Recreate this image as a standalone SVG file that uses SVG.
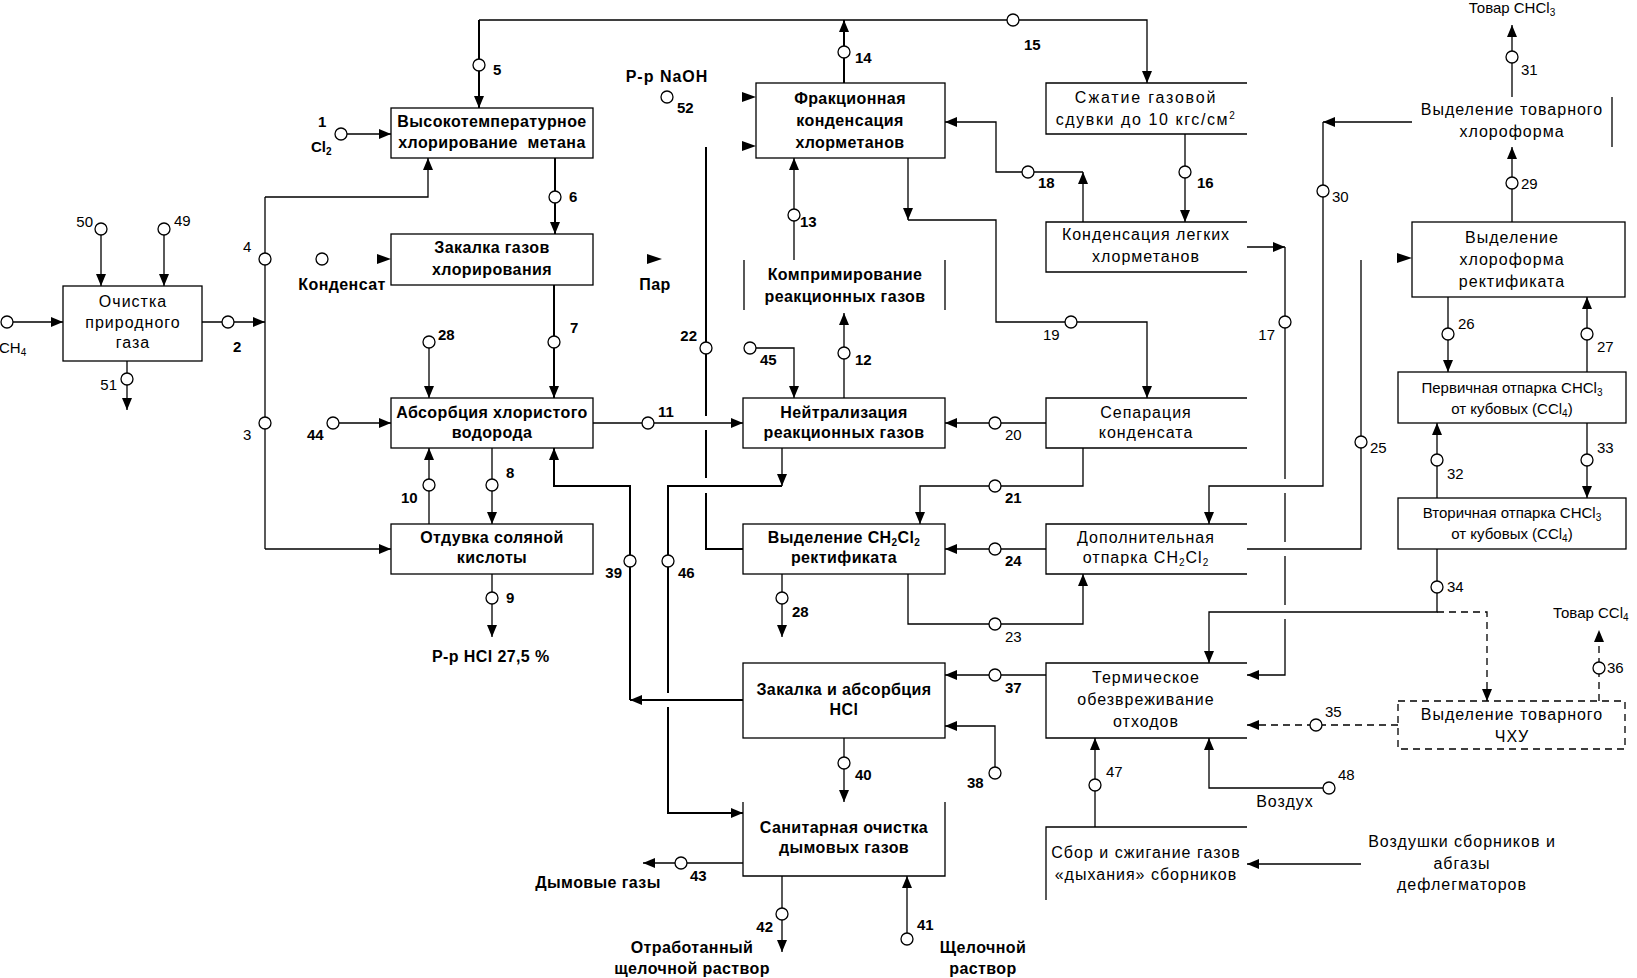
<svg xmlns="http://www.w3.org/2000/svg" width="1637" height="978" viewBox="0 0 1637 978">
<defs>
<marker id="ar" markerWidth="12" markerHeight="10" refX="12" refY="5" orient="auto" markerUnits="userSpaceOnUse"><path d="M0,0 L12,5 L0,10 z" fill="#000"/></marker>
</defs>
<style>
.ln{fill:none;stroke:#000;stroke-width:1.3}
.th{stroke-width:2}
.ds{stroke-dasharray:7 5}
.bx{fill:none;stroke:#000;stroke-width:1.3}
.c{fill:#fff;stroke:#000;stroke-width:1.3}
text{font-family:"Liberation Sans",Arial,sans-serif;font-size:15px;fill:#000}
.b{font-weight:bold}
.w{font-weight:bold;font-size:16px;letter-spacing:.4px}
.r{font-size:16px;letter-spacing:1px}
.m{text-anchor:middle}
.e{text-anchor:end}
.ah{fill:#000}
</style>
<rect width="1637" height="978" fill="#fff"/>

<g id="connectors">
<path class="ln" d="M13,322 H63" marker-end="url(#ar)"/>
<path class="ln" d="M101,235 V286" marker-end="url(#ar)"/>
<path class="ln" d="M164,235 V286" marker-end="url(#ar)"/>
<path class="ln" d="M202,322 H265" marker-end="url(#ar)"/>
<path class="ln" d="M127,361 V410" marker-end="url(#ar)"/>
<path class="ln" d="M265,197 V549"/>
<path class="ln" d="M265,197 H428 V158" marker-end="url(#ar)"/>
<path class="ln" d="M265,549 H391" marker-end="url(#ar)"/>
<path class="ln" d="M347,134 H391" marker-end="url(#ar)"/>
<polygon class="ah" points="377,254 391,259 377,264"/>
<path class="ln th" d="M844,83 V20" marker-end="url(#ar)"/>
<path class="ln th" d="M479,20 V108" marker-end="url(#ar)"/>
<path class="ln" d="M479,20 H1147 V83" marker-end="url(#ar)"/>
<path class="ln th" d="M555,158 V234" marker-end="url(#ar)"/>
<path class="ln th" d="M554,285 V398" marker-end="url(#ar)"/>
<path class="ln" d="M429,348 V398" marker-end="url(#ar)"/>
<path class="ln" d="M339,423 H391" marker-end="url(#ar)"/>
<path class="ln" d="M593,423 H743" marker-end="url(#ar)"/>
<path class="ln" d="M429,524 V448" marker-end="url(#ar)"/>
<path class="ln" d="M492,448 V524" marker-end="url(#ar)"/>
<path class="ln" d="M492,574 V637" marker-end="url(#ar)"/>
<path class="ln th" d="M706,147 V416 M706,430 V478 M706,493 V549 H743"/>
<polygon class="ah" points="647,254 662,259 647,264"/>
<polygon class="ah" points="742,92 756,97 742,102"/>
<polygon class="ah" points="742,141 756,146 742,151"/>
<path class="ln" d="M794,260 V158" marker-end="url(#ar)"/>
<path class="ln" d="M844,398 V313" marker-end="url(#ar)"/>
<path class="ln" d="M756,348 H794 V398" marker-end="url(#ar)"/>
<path class="ln" d="M1046,423 H945" marker-end="url(#ar)"/>
<path class="ln" d="M782,448 V486" marker-end="url(#ar)"/>
<path class="ln th" d="M782,486 H668 V693 M668,707 V813 H743" marker-end="url(#ar)"/>
<path class="ln th" d="M743,700 H630" marker-end="url(#ar)"/>
<path class="ln th" d="M630,700 V486 H554 V448" marker-end="url(#ar)"/>
<path class="ln" d="M1083,448 V486 H920 V524" marker-end="url(#ar)"/>
<path class="ln" d="M1046,549 H945" marker-end="url(#ar)"/>
<path class="ln" d="M908,574 V624 H1083 V574" marker-end="url(#ar)"/>
<path class="ln" d="M782,574 V637" marker-end="url(#ar)"/>
<path class="ln" d="M908,158 V220" marker-end="url(#ar)"/>
<path class="ln" d="M908,220 H996 V322 H1147 V398" marker-end="url(#ar)"/>
<path class="ln" d="M1185,134 V222" marker-end="url(#ar)"/>
<path class="ln" d="M1083,222 V172" marker-end="url(#ar)"/>
<path class="ln" d="M1083,172 H996 V122 H945" marker-end="url(#ar)"/>
<path class="ln" d="M1247,247 H1285" marker-end="url(#ar)"/>
<path class="ln" d="M1285,247 V479 M1285,493 V542 M1285,556 V605 M1285,619 V675 H1247" marker-end="url(#ar)"/>
<path class="ln" d="M1412,122 H1323" marker-end="url(#ar)"/>
<path class="ln" d="M1323,122 V486 H1209 V524" marker-end="url(#ar)"/>
<path class="ln" d="M1361,260 V549 H1247"/>
<path class="ln" d="M1512,222 V147" marker-end="url(#ar)"/>
<path class="ln" d="M1512,97 V25" marker-end="url(#ar)"/>
<polygon class="ah" points="1397,253 1412,258 1397,263"/>
<path class="ln" d="M1448,297 V372" marker-end="url(#ar)"/>
<path class="ln" d="M1587,372 V297" marker-end="url(#ar)"/>
<path class="ln" d="M1437,498 V423" marker-end="url(#ar)"/>
<path class="ln" d="M1587,423 V498" marker-end="url(#ar)"/>
<path class="ln" d="M1437,549 V612 H1209 V663" marker-end="url(#ar)"/>
<path class="ln ds" d="M1437,612 H1487 V701" marker-end="url(#ar)"/>
<path class="ln ds" d="M1398,725 H1247" marker-end="url(#ar)"/>
<path class="ln ds" d="M1599,701 V630" marker-end="url(#ar)"/>
<path class="ln" d="M1046,675 H945" marker-end="url(#ar)"/>
<path class="ln" d="M995,767 V726 H945" marker-end="url(#ar)"/>
<path class="ln" d="M844,738 V802" marker-end="url(#ar)"/>
<path class="ln" d="M907,933 V876" marker-end="url(#ar)"/>
<path class="ln" d="M782,876 V952" marker-end="url(#ar)"/>
<path class="ln" d="M743,863 H643" marker-end="url(#ar)"/>
<path class="ln" d="M1095,827 V738" marker-end="url(#ar)"/>
<path class="ln" d="M1323,788 H1209 V738" marker-end="url(#ar)"/>
<path class="ln" d="M1361,864 H1247" marker-end="url(#ar)"/>

<circle class="c" cx="7" cy="322" r="6"/>
<circle class="c" cx="101" cy="229" r="6"/>
<circle class="c" cx="164" cy="229" r="6"/>
<circle class="c" cx="228" cy="322" r="6"/>
<circle class="c" cx="127" cy="379" r="6"/>
<circle class="c" cx="265" cy="259" r="6"/>
<circle class="c" cx="265" cy="423" r="6"/>
<circle class="c" cx="341" cy="134" r="6"/>
<circle class="c" cx="322" cy="259" r="6"/>
<circle class="c" cx="479" cy="65" r="6"/>
<circle class="c" cx="1013" cy="20" r="6"/>
<circle class="c" cx="844" cy="52" r="6"/>
<circle class="c" cx="555" cy="197" r="6"/>
<circle class="c" cx="554" cy="342" r="6"/>
<circle class="c" cx="429" cy="342" r="6"/>
<circle class="c" cx="333" cy="423" r="6"/>
<circle class="c" cx="648" cy="423" r="6"/>
<circle class="c" cx="429" cy="485" r="6"/>
<circle class="c" cx="492" cy="485" r="6"/>
<circle class="c" cx="492" cy="598" r="6"/>
<circle class="c" cx="706" cy="348" r="6"/>
<circle class="c" cx="667" cy="97" r="6"/>
<circle class="c" cx="794" cy="215" r="6"/>
<circle class="c" cx="844" cy="353" r="6"/>
<circle class="c" cx="750" cy="348" r="6"/>
<circle class="c" cx="995" cy="423" r="6"/>
<circle class="c" cx="668" cy="561" r="6"/>
<circle class="c" cx="630" cy="561" r="6"/>
<circle class="c" cx="995" cy="486" r="6"/>
<circle class="c" cx="995" cy="549" r="6"/>
<circle class="c" cx="995" cy="624" r="6"/>
<circle class="c" cx="782" cy="598" r="6"/>
<circle class="c" cx="1071" cy="322" r="6"/>
<circle class="c" cx="1185" cy="172" r="6"/>
<circle class="c" cx="1028" cy="172" r="6"/>
<circle class="c" cx="1285" cy="322" r="6"/>
<circle class="c" cx="1323" cy="191" r="6"/>
<circle class="c" cx="1361" cy="442" r="6"/>
<circle class="c" cx="1512" cy="183" r="6"/>
<circle class="c" cx="1512" cy="57" r="6"/>
<circle class="c" cx="1448" cy="334" r="6"/>
<circle class="c" cx="1587" cy="334" r="6"/>
<circle class="c" cx="1437" cy="460" r="6"/>
<circle class="c" cx="1587" cy="460" r="6"/>
<circle class="c" cx="1437" cy="587" r="6"/>
<circle class="c" cx="1316" cy="725" r="6"/>
<circle class="c" cx="1599" cy="668" r="6"/>
<circle class="c" cx="995" cy="675" r="6"/>
<circle class="c" cx="995" cy="773" r="6"/>
<circle class="c" cx="844" cy="763" r="6"/>
<circle class="c" cx="907" cy="939" r="6"/>
<circle class="c" cx="782" cy="914" r="6"/>
<circle class="c" cx="681" cy="863" r="6"/>
<circle class="c" cx="1095" cy="785" r="6"/>
<circle class="c" cx="1329" cy="788" r="6"/>

<text x="-1" y="353">CH<tspan font-size="10" dy="3">4</tspan></text>
<text x="93" y="227" class="e">50</text>
<text x="174" y="226">49</text>
<text x="233" y="352" class="b">2</text>
<text x="117" y="390" class="e">51</text>
<text x="243" y="252">4</text>
<text x="243" y="440">3</text>
<text x="318" y="127" class="b">1</text>
<text x="311" y="152" class="b">Cl<tspan font-size="10" dy="3">2</tspan></text>
<text x="342" y="290" class="w m">Конденсат</text>
<text x="493" y="75" class="b">5</text>
<text x="1024" y="50" class="b">15</text>
<text x="855" y="63" class="b">14</text>
<text x="569" y="202" class="b">6</text>
<text x="570" y="333" class="b">7</text>
<text x="438" y="340" class="b">28</text>
<text x="307" y="440" class="b">44</text>
<text x="658" y="417" class="b">11</text>
<text x="401" y="503" class="b">10</text>
<text x="506" y="478" class="b">8</text>
<text x="506" y="603" class="b">9</text>
<text x="432" y="662" class="w">Р-р HCl 27,5 %</text>
<text x="697" y="341" class="b e">22</text>
<text x="667" y="82" class="w m" style="letter-spacing:1px">Р-р NaOH</text>
<text x="677" y="113" class="b">52</text>
<text x="655" y="290" class="w m">Пар</text>
<text x="800" y="227" class="b">13</text>
<text x="855" y="365" class="b">12</text>
<text x="760" y="365" class="b">45</text>
<text x="1005" y="440">20</text>
<text x="678" y="578" class="b">46</text>
<text x="622" y="578" class="b e">39</text>
<text x="1005" y="503" class="b">21</text>
<text x="1005" y="566" class="b">24</text>
<text x="1005" y="642">23</text>
<text x="792" y="617" class="b">28</text>
<text x="1043" y="340">19</text>
<text x="1197" y="188" class="b">16</text>
<text x="1038" y="188" class="b">18</text>
<text x="1275" y="340" class="e">17</text>
<text x="1332" y="202">30</text>
<text x="1370" y="453">25</text>
<text x="1521" y="189">29</text>
<text x="1521" y="75">31</text>
<text x="1512" y="13" class="m">Товар CHCl<tspan font-size="10" dy="3">3</tspan></text>
<text x="1458" y="329">26</text>
<text x="1597" y="352">27</text>
<text x="1447" y="479">32</text>
<text x="1597" y="453">33</text>
<text x="1447" y="592">34</text>
<text x="1325" y="717">35</text>
<text x="1607" y="673">36</text>
<text x="1553" y="618">Товар CCl<tspan font-size="10" dy="3">4</tspan></text>
<text x="1005" y="693" class="b">37</text>
<text x="967" y="788" class="b">38</text>
<text x="855" y="780" class="b">40</text>
<text x="917" y="930" class="b">41</text>
<text x="983" y="953" class="w m">Щелочной</text>
<text x="983" y="974" class="w m">раствор</text>
<text x="773" y="932" class="b e">42</text>
<text x="692" y="953" class="w m">Отработанный</text>
<text x="692" y="974" class="w m">щелочной раствор</text>
<text x="690" y="881" class="b">43</text>
<text x="598" y="888" class="w m">Дымовые газы</text>
<text x="1106" y="777">47</text>
<text x="1338" y="780">48</text>
<text x="1285" y="807" class="r m">Воздух</text>
<text x="1462" y="847" class="r m">Воздушки сборников и</text>
<text x="1462" y="869" class="r m">абгазы</text>
<text x="1462" y="890" class="r m">дефлегматоров</text>
</g>

<g id="n-ochistka">
<rect class="bx" x="63" y="286" width="139" height="75"/>
<text x="133" y="307" class="r m">Очистка</text>
<text x="133" y="328" class="r m">природного</text>
<text x="133" y="348" class="r m">газа</text>
</g>
<g id="n-hlorirovanie">
<rect class="bx" x="391" y="108" width="202" height="50"/>
<text x="492" y="127" class="w m">Высокотемпературное</text>
<text x="492" y="148" class="w m" xml:space="preserve">хлорирование  метана</text>
</g>
<g id="n-zakalka">
<rect class="bx" x="391" y="234" width="202" height="51"/>
<text x="492" y="253" class="w m">Закалка газов</text>
<text x="492" y="275" class="w m">хлорирования</text>
</g>
<g id="n-absorbcia">
<rect class="bx" x="391" y="398" width="202" height="50"/>
<text x="492" y="418" class="w m">Абсорбция хлористого</text>
<text x="492" y="438" class="w m">водорода</text>
</g>
<g id="n-otduvka">
<rect class="bx" x="391" y="524" width="202" height="50"/>
<text x="492" y="543" class="w m">Отдувка соляной</text>
<text x="492" y="563" class="w m">кислоты</text>
</g>
<g id="n-frakc">
<rect class="bx" x="756" y="83" width="189" height="75"/>
<text x="850" y="104" class="w m">Фракционная</text>
<text x="850" y="126" class="w m">конденсация</text>
<text x="850" y="148" class="w m">хлорметанов</text>
</g>
<g id="n-kompr">
<path class="bx" d="M744,260 V310 M945,260 V310"/>
<text x="845" y="280" class="w m">Компримирование</text>
<text x="845" y="302" class="w m">реакционных газов</text>
</g>
<g id="n-neitr">
<rect class="bx" x="743" y="398" width="202" height="50"/>
<text x="844" y="418" class="w m">Нейтрализация</text>
<text x="844" y="438" class="w m">реакционных газов</text>
</g>
<g id="n-ch2cl2">
<rect class="bx" x="743" y="524" width="202" height="50"/>
<text x="844" y="543" class="w m">Выделение CH<tspan font-size="10" dy="3">2</tspan><tspan dy="-3">Cl</tspan><tspan font-size="10" dy="3">2</tspan></text>
<text x="844" y="563" class="w m">ректификата</text>
</g>
<g id="n-zakalka-hcl">
<rect class="bx" x="743" y="663" width="202" height="75"/>
<text x="844" y="695" class="w m">Закалка и абсорбция</text>
<text x="844" y="715" class="w m">HCl</text>
</g>
<g id="n-sanit">
<path class="bx" d="M743,802 V876 H945 V802"/>
<text x="844" y="833" class="w m">Санитарная очистка</text>
<text x="844" y="853" class="w m">дымовых газов</text>
</g>
<g id="n-szhatie">
<path class="bx" d="M1247,83 H1046 V134 H1247"/>
<text x="1146" y="103" class="r m" style="letter-spacing:1.8px">Сжатие газовой</text>
<text x="1146" y="125" class="r m" style="letter-spacing:1.6px">сдувки до 10 кгс/см<tspan font-size="10" dy="-6">2</tspan></text>
</g>
<g id="n-kond-legk">
<path class="bx" d="M1247,222 H1046 V272 H1247"/>
<text x="1146" y="240" class="r m">Конденсация легких</text>
<text x="1146" y="262" class="r m">хлорметанов</text>
</g>
<g id="n-separ">
<path class="bx" d="M1247,398 H1046 V448 H1247"/>
<text x="1146" y="418" class="r m">Сепарация</text>
<text x="1146" y="438" class="r m">конденсата</text>
</g>
<g id="n-dopoln">
<path class="bx" d="M1247,524 H1046 V574 H1247"/>
<text x="1146" y="543" class="r m">Дополнительная</text>
<text x="1146" y="563" class="r m">отпарка CH<tspan font-size="10" dy="3">2</tspan><tspan dy="-3">Cl</tspan><tspan font-size="10" dy="3">2</tspan></text>
</g>
<g id="n-termich">
<path class="bx" d="M1247,663 H1046 V738 H1247"/>
<text x="1146" y="683" class="r m">Термическое</text>
<text x="1146" y="705" class="r m">обезвреживание</text>
<text x="1146" y="727" class="r m">отходов</text>
</g>
<g id="n-sbor">
<path class="bx" d="M1247,827 H1046 V900"/>
<text x="1146" y="858" class="r m">Сбор и сжигание газов</text>
<text x="1146" y="880" class="r m">«дыхания» сборников</text>
</g>
<g id="n-tov-hlorof">
<path class="bx" d="M1612,97 V147"/>
<text x="1512" y="115" class="r m">Выделение товарного</text>
<text x="1512" y="137" class="r m">хлороформа</text>
</g>
<g id="n-hlorof-rekt">
<rect class="bx" x="1412" y="222" width="213" height="75"/>
<text x="1512" y="243" class="r m">Выделение</text>
<text x="1512" y="265" class="r m">хлороформа</text>
<text x="1512" y="287" class="r m">ректификата</text>
</g>
<g id="n-pervich">
<rect class="bx" x="1398" y="372" width="228" height="51"/>
<text x="1512" y="393" class="m">Первичная отпарка CHCl<tspan font-size="10" dy="3">3</tspan></text>
<text x="1512" y="414" class="m">от кубовых (CCl<tspan font-size="10" dy="3">4</tspan><tspan dy="-3">)</tspan></text>
</g>
<g id="n-vtorich">
<rect class="bx" x="1398" y="498" width="228" height="51"/>
<text x="1512" y="518" class="m">Вторичная отпарка CHCl<tspan font-size="10" dy="3">3</tspan></text>
<text x="1512" y="539" class="m">от кубовых (CCl<tspan font-size="10" dy="3">4</tspan><tspan dy="-3">)</tspan></text>
</g>
<g id="n-chxu">
<rect class="bx ds" x="1398" y="701" width="227" height="48"/>
<text x="1512" y="720" class="r m">Выделение товарного</text>
<text x="1512" y="742" class="r m">ЧХУ</text>
</g>
</svg>
